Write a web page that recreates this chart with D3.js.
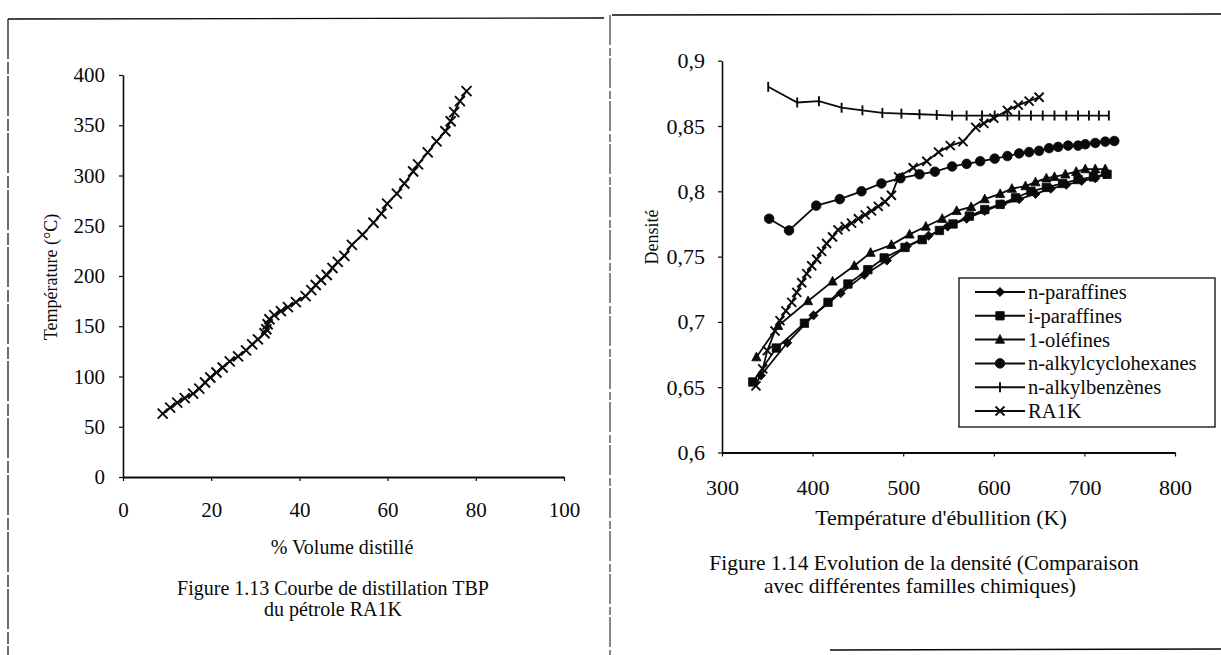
<!DOCTYPE html>
<html>
<head>
<meta charset="utf-8">
<script src="https://cdn.jsdelivr.net/npm/d3@7"></script>
<style>
  html, body { margin: 0; padding: 0; background: #fff; }
  svg { display: block; }
  text { font-family: "Liberation Serif", "Times New Roman", serif; fill: #0a0a0a; }
</style>
</head>
<body>
<svg id="page" width="1221" height="655"></svg>
<script>
// ---- Figure 1.13 : TBP distillation curve of RA1K crude ----
const volumePct = [9.0, 10.7, 12.3, 14.0, 15.9, 17.3, 18.6, 19.8, 21.2, 22.6, 24.2, 26.1, 27.9, 29.3, 30.6, 32.1, 32.5, 32.8, 33.2, 34.3, 35.8, 37.4, 39.2, 41.4, 42.7, 43.7, 44.9, 46.2, 47.5, 48.7, 50.2, 51.9, 54.3, 56.8, 58.6, 59.9, 62.1, 63.8, 65.8, 66.9, 69.1, 71.1, 73.1, 74.3, 75.1, 76.4, 77.9];
const tempC = [63, 69, 74, 78.5, 83, 88, 94, 99, 104, 109, 115, 120, 126, 132, 137, 143, 147, 152, 157, 161, 165, 169, 174, 180, 186, 191, 196, 201, 208, 214, 220, 231, 241, 253, 262, 272, 282, 292, 304, 311, 323, 334, 344, 354, 363, 374, 384];
const leftXTicks = [0, 20, 40, 60, 80, 100];
const leftYTicks = [0, 50, 100, 150, 200, 250, 300, 350, 400];

// ---- Figure 1.14 : density vs boiling temperature ----
const nParaffinsT = [343, 372, 401, 431, 457, 482, 504, 528, 549, 570, 590, 609, 628, 646, 663, 680, 697, 712, 723];
const nParaffinsD = [0.659, 0.684, 0.705, 0.722, 0.736, 0.747, 0.758, 0.766, 0.773, 0.779, 0.785, 0.790, 0.794, 0.798, 0.802, 0.805, 0.808, 0.810, 0.813];
const iParaffinsT = [334, 360, 391, 417, 439, 461, 479, 502, 521, 540, 555, 573, 590, 607, 624, 641, 658, 676, 693, 710, 725];
const iParaffinsD = [0.654, 0.680, 0.699, 0.715, 0.729, 0.740, 0.749, 0.757, 0.763, 0.770, 0.775, 0.781, 0.786, 0.790, 0.795, 0.800, 0.803, 0.806, 0.809, 0.811, 0.813];
const olefinsT = [338, 362, 395, 422, 446, 464, 487, 507, 525, 543, 559, 575, 590, 607, 620, 635, 646, 658, 667, 679, 691, 701, 712, 723];
const olefinsD = [0.673, 0.697, 0.716, 0.731, 0.743, 0.753, 0.759, 0.767, 0.773, 0.779, 0.785, 0.788, 0.794, 0.798, 0.802, 0.804, 0.807, 0.810, 0.811, 0.813, 0.815, 0.817, 0.817, 0.817];
const cyclohexT = [352, 374, 404, 430, 454, 476, 497, 518, 535, 554, 570, 585, 601, 615, 628, 639, 650, 661, 671, 682, 693, 701, 712, 723, 733];
const cyclohexD = [0.779, 0.770, 0.789, 0.794, 0.800, 0.806, 0.810, 0.813, 0.815, 0.819, 0.821, 0.823, 0.825, 0.827, 0.829, 0.830, 0.831, 0.833, 0.834, 0.835, 0.835, 0.836, 0.837, 0.838, 0.8385];
const benzenesT = [351, 383, 407, 432, 455, 477, 498, 518, 537, 554, 570, 587, 601, 615, 628, 641, 654, 667, 680, 693, 705, 716, 727];
const benzenesD = [0.880, 0.868, 0.869, 0.864, 0.862, 0.860, 0.8595, 0.859, 0.8585, 0.858, 0.858, 0.858, 0.858, 0.858, 0.858, 0.858, 0.858, 0.858, 0.858, 0.858, 0.858, 0.858, 0.858];
const ra1kT = [337.5, 345, 350, 358.5, 364, 370.5, 377, 382.5, 388, 393.5, 399, 404.5, 410, 415.5, 422, 428, 436, 443, 450.5, 458, 465, 472.5, 480, 487, 495, 511, 526, 539, 552, 566, 580, 589, 600, 615, 627, 639, 650];
const ra1kD = [0.651, 0.664, 0.678, 0.693, 0.701, 0.7085, 0.715, 0.7226, 0.730, 0.737, 0.743, 0.748, 0.754, 0.760, 0.765, 0.7705, 0.773, 0.7756, 0.779, 0.782, 0.785, 0.7885, 0.792, 0.797, 0.811, 0.818, 0.823, 0.830, 0.835, 0.838, 0.849, 0.852, 0.856, 0.862, 0.866, 0.869, 0.872];
const rightXTicks = [300, 400, 500, 600, 700, 800];
const rightYTicks = [0.6, 0.65, 0.7, 0.75, 0.8, 0.85, 0.9];
const rightYTickLabels = ["0,6", "0,65", "0,7", "0,75", "0,8", "0,85", "0,9"];

const seriesNames = ["n-paraffines", "i-paraffines", "1-oléfines", "n-alkylcyclohexanes", "n-alkylbenzènes", "RA1K"];

const svg = d3.select("#page");
const ink = "#0a0a0a";
const serif = "Liberation Serif";

// ---- page frames ----
const frame = svg.append("g").attr("stroke", ink).attr("fill", "none");
frame.append("line").attr("x1", 8).attr("y1", 19).attr("x2", 604).attr("y2", 18).attr("stroke-width", 1.4);
frame.append("line").attr("x1", 8).attr("y1", 19).attr("x2", 8).attr("y2", 655).attr("stroke-width", 1.2).attr("stroke-dasharray", "40 3 12 2");
frame.append("line").attr("x1", 612).attr("y1", 15).attr("x2", 1221).attr("y2", 14).attr("stroke-width", 1.4);
frame.append("line").attr("x1", 610).attr("y1", 15).attr("x2", 610).attr("y2", 655).attr("stroke-width", 1).attr("stroke-dasharray", "30 3 8 2");
frame.append("line").attr("x1", 830).attr("y1", 650).attr("x2", 1221).attr("y2", 649).attr("stroke-width", 1.6);

// marker path generators (centred at 0,0)
const markers = {
  diamond: s => `M0,${-s}L${s},0L0,${s}L${-s},0Z`,
  square: s => `M${-s},${-s}H${s}V${s}H${-s}Z`,
  triangle: s => `M0,${-s * 1.1}L${s},${s * 0.8}L${-s},${s * 0.8}Z`,
  circle: s => d3.symbol(d3.symbolCircle, Math.PI * s * s)(),
  plus: s => `M0,${-s}V${s}`,
  cross: s => `M${-s},${-s}L${s},${s}M${-s},${s}L${s},${-s}`
};
const filled = { diamond: true, square: true, triangle: true, circle: true, plus: false, cross: false };

function drawSeries(g, xs, ys, xScale, yScale, shape, size) {
  const pts = xs.map((x, i) => [xScale(x), yScale(ys[i])]);
  g.append("path").attr("d", d3.line()(pts)).attr("fill", "none").attr("stroke", ink).attr("stroke-width", 1.8);
  g.selectAll(null).data(pts).join("path")
    .attr("transform", d => `translate(${d[0]},${d[1]})`)
    .attr("d", markers[shape](size))
    .attr("fill", filled[shape] ? ink : "none")
    .attr("stroke", ink)
    .attr("stroke-width", filled[shape] ? 0.8 : 1.9);
}

function styleAxis(g, fontSize, domainWidth) {
  g.select(".domain").attr("stroke", ink).attr("stroke-width", domainWidth);
  g.selectAll(".tick line").attr("stroke", ink).attr("stroke-width", 1.2);
  g.selectAll(".tick text").attr("font-size", fontSize).attr("fill", ink).style("font-family", serif);
}

// ================= Figure 1.13 =================
const xL = d3.scaleLinear().domain([0, 100]).range([123, 564]);
const yL = d3.scaleLinear().domain([0, 400]).range([477, 75]);
const gL = svg.append("g");

gL.append("g").attr("transform", `translate(0,${yL(0)})`)
  .call(d3.axisBottom(xL).tickValues(leftXTicks).tickSize(4).tickSizeOuter(0).tickPadding(21))
  .call(g => styleAxis(g, 21, 1.8));
gL.append("g").attr("transform", `translate(${xL(0)},0)`)
  .call(d3.axisLeft(yL).tickValues(leftYTicks).tickSize(4).tickSizeOuter(0).tickPadding(14))
  .call(g => styleAxis(g, 21, 1.6));

drawSeries(gL.append("g"), volumePct, tempC, xL, yL, "cross", 5);

gL.append("text").attr("x", 342).attr("y", 554).attr("text-anchor", "middle").attr("font-size", 20).text("% Volume distillé");
gL.append("text").attr("transform", "translate(57,277) rotate(-90)").attr("text-anchor", "middle").attr("font-size", 18).text("Température (°C)");
gL.append("text").attr("x", 333).attr("y", 595).attr("text-anchor", "middle").attr("font-size", 20).text("Figure 1.13 Courbe de distillation TBP");
gL.append("text").attr("x", 333).attr("y", 616).attr("text-anchor", "middle").attr("font-size", 20).text("du pétrole RA1K");

// ================= Figure 1.14 =================
const xR = d3.scaleLinear().domain([300, 800]).range([722, 1175]);
const yR = d3.scaleLinear().domain([0.6, 0.9]).range([452.5, 60.7]);
const gR = svg.append("g");

gR.append("g").attr("transform", `translate(0,${yR(0.6)})`)
  .call(d3.axisBottom(xR).tickValues(rightXTicks).tickSize(4).tickSizeOuter(0).tickPadding(23))
  .call(g => styleAxis(g, 22, 1.8));
gR.append("g").attr("transform", `translate(${xR(300)},0)`)
  .call(d3.axisLeft(yR).tickValues(rightYTicks).tickFormat((d, i) => rightYTickLabels[i]).tickSize(4).tickSizeOuter(0).tickPadding(13))
  .call(g => styleAxis(g, 22, 1.6));

const seriesDefs = [
  { t: nParaffinsT, d: nParaffinsD, shape: "diamond", size: 4.6 },
  { t: iParaffinsT, d: iParaffinsD, shape: "square", size: 4.2 },
  { t: olefinsT, d: olefinsD, shape: "triangle", size: 4.6 },
  { t: cyclohexT, d: cyclohexD, shape: "circle", size: 4.8 },
  { t: benzenesT, d: benzenesD, shape: "plus", size: 5 },
  { t: ra1kT, d: ra1kD, shape: "cross", size: 4.5 }
];
seriesDefs.forEach(s => drawSeries(gR.append("g"), s.t, s.d, xR, yR, s.shape, s.size));

gR.append("text").attr("x", 941).attr("y", 525).attr("text-anchor", "middle").attr("font-size", 22).text("Température d'ébullition (K)");
gR.append("text").attr("transform", "translate(658,237) rotate(-90)").attr("text-anchor", "middle").attr("font-size", 18).text("Densité");
gR.append("text").attr("x", 924).attr("y", 570).attr("text-anchor", "middle").attr("font-size", 21.5).text("Figure 1.14 Evolution de la densité (Comparaison");
gR.append("text").attr("x", 920).attr("y", 593).attr("text-anchor", "middle").attr("font-size", 21.5).text("avec différentes familles chimiques)");

// legend
const leg = gR.append("g").attr("transform", "translate(959,278)");
leg.append("rect").attr("width", 256).attr("height", 149).attr("fill", "#fff").attr("stroke", ink).attr("stroke-width", 1.3);
seriesNames.forEach((name, i) => {
  const y = 14 + i * 23.8;
  const row = leg.append("g").attr("transform", `translate(0,${y})`);
  row.append("line").attr("x1", 16).attr("x2", 66).attr("y1", 0).attr("y2", 0).attr("stroke", ink).attr("stroke-width", 2);
  const s = seriesDefs[i];
  row.append("path").attr("transform", "translate(41,0)").attr("d", markers[s.shape](s.size))
    .attr("fill", filled[s.shape] ? ink : "none").attr("stroke", ink).attr("stroke-width", filled[s.shape] ? 0.8 : 1.9);
  row.append("text").attr("x", 69).attr("y", 7).attr("font-size", 20.5).text(name);
});
</script>
</body>
</html>
